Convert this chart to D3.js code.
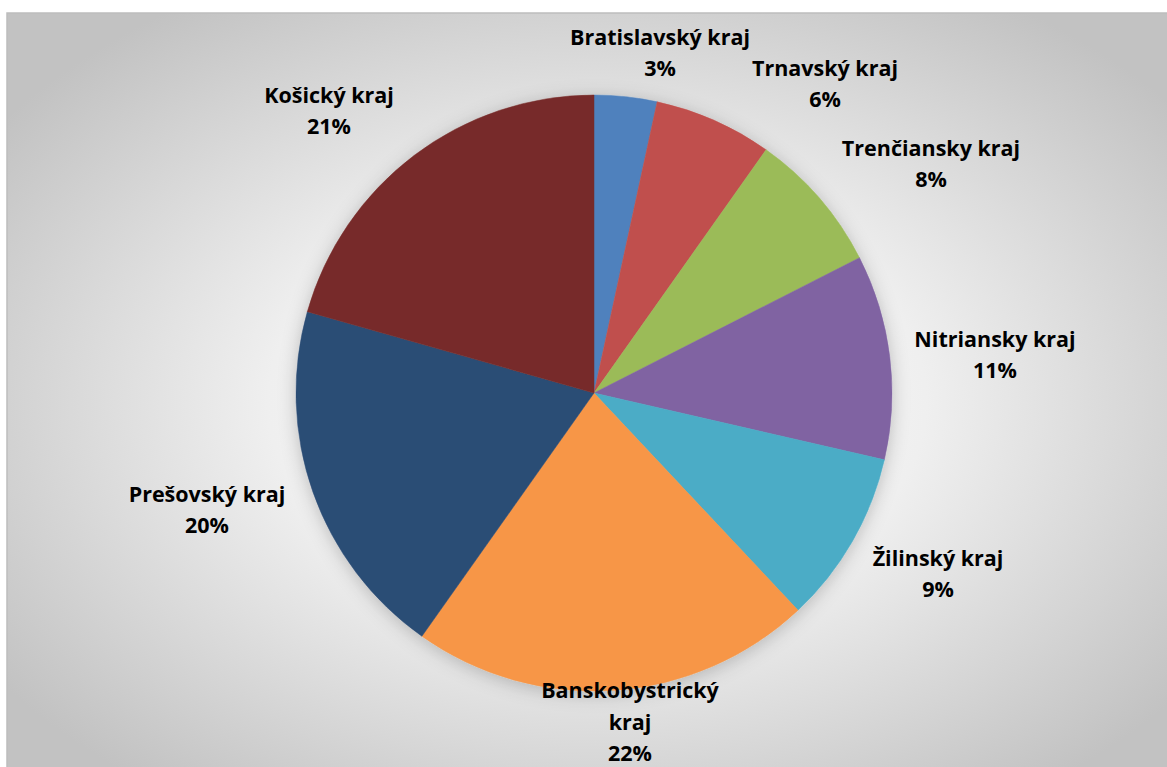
<!DOCTYPE html>
<html>
<head>
<meta charset="utf-8">
<script src="https://cdn.jsdelivr.net/npm/d3@7"></script>
<style>
  html, body { margin: 0; padding: 0; background: #ffffff; }
  svg { display: block; }
  .lbl { font-family: "Open Sans", Lato, sans-serif; font-weight: 700; font-size: 21.5px; fill: #000; }
</style>
</head>
<body>
<svg id="chart" width="1167" height="767"></svg>
<script>
// Regions of Slovakia and their share (percent)
const regions = ["Bratislavský kraj", "Trnavský kraj", "Trenčiansky kraj", "Nitriansky kraj",
                 "Žilinský kraj", "Banskobystrický kraj", "Prešovský kraj", "Košický kraj"];
const shares = [3.4, 6.4, 7.7, 11.1, 9.4, 21.8, 19.6, 20.6];
const colors = ["#4F81BD", "#C0504D", "#9BBB59", "#8064A2", "#4BACC6", "#F79646", "#2C4D75", "#772C2A"];

// Label lines (region name may wrap) and label anchor centres
const labelLines = [["Bratislavský kraj"], ["Trnavský kraj"], ["Trenčiansky kraj"], ["Nitriansky kraj"],
                    ["Žilinský kraj"], ["Banskobystrický", "kraj"], ["Prešovský kraj"], ["Košický kraj"]];
const labelAnchors = [[660, 53], [825, 84], [931, 164], [995, 355], [938, 574], [630, 722], [207, 510], [329, 111]];

const svg = d3.select("#chart");
const cx = 594, cy = 393, R = 298;

const defs = svg.append("defs");
const bg = defs.append("radialGradient").attr("id", "bgGrad")
  .attr("cx", "0.5").attr("cy", "0.5").attr("r", "0.62");
bg.append("stop").attr("offset", "0").attr("stop-color", "#ffffff");
bg.append("stop").attr("offset", "0.45").attr("stop-color", "#efefef");
bg.append("stop").attr("offset", "1").attr("stop-color", "#c2c2c2");

const sh = defs.append("filter").attr("id", "pieShadow")
  .attr("x", "-20%").attr("y", "-20%").attr("width", "140%").attr("height", "140%");
sh.append("feDropShadow").attr("dx", 0).attr("dy", 3).attr("stdDeviation", 9)
  .attr("flood-color", "#000").attr("flood-opacity", 0.22);

// Chart area
svg.append("rect")
  .attr("x", 7).attr("y", 13).attr("width", 1180).attr("height", 780)
  .attr("fill", "url(#bgGrad)")
  .attr("stroke", "#bdbdbd").attr("stroke-width", 1.5);

const data = regions.map((r, i) => ({ region: r, value: shares[i], color: colors[i], lines: labelLines[i], anchor: labelAnchors[i] }));
const total = d3.sum(shares);
const pct = d3.format(".0%");

const pie = d3.pie().value(d => d.value).sort(null);
const arc = d3.arc().innerRadius(0).outerRadius(R);

const g = svg.append("g").attr("transform", `translate(${cx},${cy})`);
const slices = g.append("g").attr("filter", "url(#pieShadow)");
slices.selectAll("path")
  .data(pie(data))
  .join("path")
  .attr("d", arc)
  .attr("fill", d => d.data.color)
  .attr("stroke", d => d.data.color)
  .attr("stroke-width", 0.5);

// Data labels: name on one or more lines, then the share
const lineH = 31.5;
const labels = svg.append("g");
data.forEach(d => {
  const lines = d.lines.concat([pct(d.value / total)]);
  const y0 = d.anchor[1] - (lines.length - 1) * lineH / 2;
  const t = labels.append("text").attr("class", "lbl").attr("text-anchor", "middle");
  lines.forEach((s, k) => {
    t.append("tspan").attr("x", d.anchor[0]).attr("y", y0 + k * lineH).attr("dy", "0.35em").text(s);
  });
});
</script>
</body>
</html>
